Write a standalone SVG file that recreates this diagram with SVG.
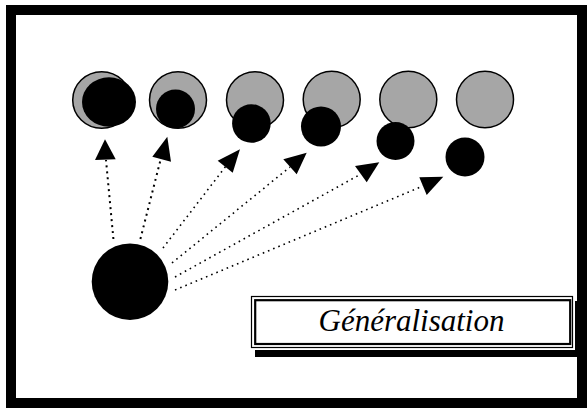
<svg xmlns="http://www.w3.org/2000/svg" width="587" height="408" viewBox="0 0 587 408">
<style>
.gray{fill:#a6a6a6;stroke:#000;stroke-width:1.5}
.blk{fill:#000}
.dash{fill:none;stroke:#000;stroke-width:2;stroke-dasharray:2 4}
.dot{fill:none;stroke:#000;stroke-width:1.6;stroke-dasharray:1.6 4}
.head{fill:#000}
</style>
<rect width="587" height="408" fill="#fff"/>
<g id="frame">
<rect x="11" y="10" width="571" height="393" fill="none" stroke="#000" stroke-width="10"/>
</g>
<g id="targets">
<g id="t1"><ellipse class="gray" cx="101.7" cy="100" rx="29" ry="28.3"/><ellipse class="blk" cx="109" cy="102" rx="27" ry="24.7"/></g>
<g id="t2"><ellipse class="gray" cx="178" cy="100" rx="28.5" ry="28.3"/><circle class="blk" cx="175.5" cy="109" r="19.5"/></g>
<g id="t3"><ellipse class="gray" cx="255" cy="100" rx="28.5" ry="28.3"/><circle class="blk" cx="251.4" cy="123.5" r="19.3"/></g>
<g id="t4"><ellipse class="gray" cx="331.7" cy="99.5" rx="28.5" ry="28.3"/><circle class="blk" cx="321" cy="126.5" r="20"/></g>
<g id="t5"><ellipse class="gray" cx="408.3" cy="99.5" rx="28.5" ry="28.3"/><circle class="blk" cx="395.5" cy="141" r="19"/></g>
<g id="t6"><ellipse class="gray" cx="485" cy="99.5" rx="28.5" ry="28.3"/><circle class="blk" cx="465" cy="157" r="19.5"/></g>
</g>
<g id="source">
<circle class="blk" cx="130" cy="281.7" r="38.3"/>
</g>
<g id="connectors">
<line class="dash" x1="113.4" y1="239" x2="106" y2="160"/>
<line class="dash" x1="140.4" y1="239" x2="160.5" y2="160"/>
<line class="dot" x1="163" y1="248" x2="226" y2="166"/>
<line class="dot" x1="172" y1="263" x2="290" y2="167"/>
<line class="dot" x1="175" y1="277" x2="361" y2="174"/>
<line class="dot" x1="175" y1="290" x2="423" y2="186"/>
<polygon class="head" points="105,139.3 95,160 115.7,159.3"/>
<polygon class="head" points="167.3,136.7 152.3,156.7 171,161.7"/>
<polygon class="head" points="240,149.3 217.7,160.7 232.7,172.7"/>
<polygon class="head" points="306.7,152.7 283.3,159.3 296.7,174.3"/>
<polygon class="head" points="379.3,162.3 355,166 366.7,182.3"/>
<polygon class="head" points="443.3,176.7 419.3,177.3 426.7,195"/>
</g>
<g id="label">
<rect x="255" y="301" width="327" height="56" fill="#000"/>
<rect x="249" y="294" width="326" height="56" fill="#fff"/>
<rect x="251.5" y="296.5" width="321" height="51" fill="none" stroke="#000" stroke-width="1.2"/>
<rect x="255.2" y="300.2" width="315" height="43.8" fill="none" stroke="#000" stroke-width="2.2"/>
<text x="411.5" y="331" text-anchor="middle" font-family="'Liberation Serif', 'Times New Roman', serif" font-style="italic" font-size="31">Généralisation</text>
</g>
</svg>
